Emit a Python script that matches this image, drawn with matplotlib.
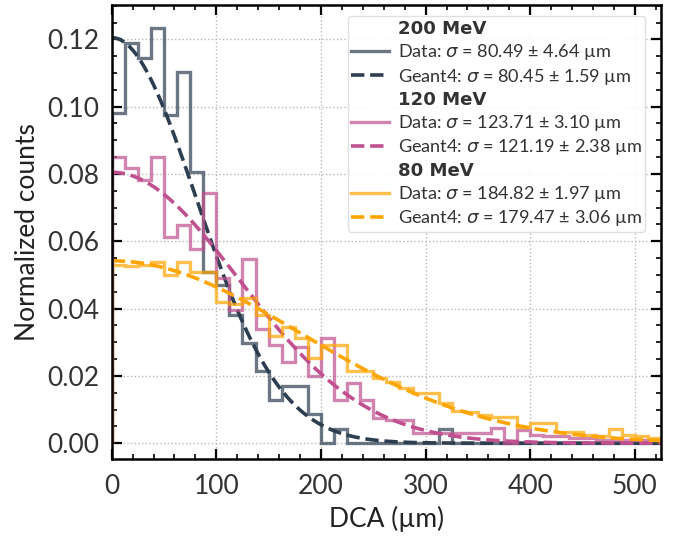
import numpy as np
import matplotlib
matplotlib.use("Agg")
import matplotlib.pyplot as plt
from matplotlib.lines import Line2D
from matplotlib.ticker import MultipleLocator, FormatStrFormatter

plt.rcParams['font.family'] = ['Lato', 'DejaVu Sans']
plt.rcParams['mathtext.fontset'] = 'dejavusans'

# DCA histogram bins (µm)
bin_edges = np.arange(0, 525 + 12.5, 12.5)

# Normalized counts per bin, 200 MeV data
counts_200 = [0.098, 0.119, 0.1146, 0.1233, 0.0975, 0.1104, 0.0807, 0.051,
              0.047, 0.0381, 0.0297, 0.0213, 0.0127, 0.0171, 0.0171, 0.0086,
              0.0, 0.0043, 0.0, 0.0, 0.0, 0.0, 0.0, 0.0,
              0.0, 0.0043, 0.0, 0.0, 0.0, 0.0, 0.0, 0.0,
              0.0, 0.0, 0.0, 0.0, 0.0, 0.0, 0.0, 0.0,
              0.0, 0.0]

# Normalized counts per bin, 120 MeV data
counts_120 = [0.0851, 0.0817, 0.0782, 0.0849, 0.0612, 0.0648, 0.0576, 0.0742,
              0.049, 0.0396, 0.0546, 0.0339, 0.0292, 0.0242, 0.0285, 0.0201,
              0.0312, 0.0127, 0.0178, 0.0127, 0.0074, 0.0069, 0.0069, 0.003,
              0.003, 0.003, 0.003, 0.003, 0.003, 0.0045, 0.0, 0.004,
              0.0025, 0.002, 0.002, 0.0015, 0.0015, 0.001, 0.001, 0.001,
              0.001, 0.001]

# Normalized counts per bin, 80 MeV data
counts_80 = [0.053, 0.0525, 0.053, 0.0537, 0.050, 0.0539, 0.0508, 0.0508,
             0.042, 0.0415, 0.043, 0.038, 0.0319, 0.0346, 0.0312, 0.0252,
             0.0292, 0.0292, 0.0213, 0.0213, 0.0193, 0.0183, 0.0163, 0.0150,
             0.0150, 0.0119, 0.0096, 0.0094, 0.0084, 0.0077, 0.0077, 0.0049,
             0.0059, 0.0059, 0.0034, 0.0034, 0.0025, 0.002, 0.0042, 0.0025,
             0.002, 0.0015]

# Geant4 Gaussian fits: peak height and width (µm)
g4_amp = [0.1205, 0.0805, 0.0542]
g4_sigma = [80.45, 121.19, 179.47]
g4_sigma_err = [1.59, 2.38, 3.06]

# Widths measured from data (µm)
data_sigma = [80.49, 123.71, 184.82]
data_sigma_err = [4.64, 3.10, 1.97]

energies = ["200 MeV", "120 MeV", "80 MeV"]
colors = ["#2c3e50", "#c0508f", "#ffa500"]
data_alpha = 0.7

fig = plt.figure(figsize=(6.86, 5.36), dpi=100)
ax = fig.add_axes([111.7 / 686, 1 - 459 / 536, (661 - 111.7) / 686, (459 - 5) / 536])

xfit = np.linspace(0, 525, 600)
centers = 0.5 * (bin_edges[:-1] + bin_edges[1:])
handles, labels = [], []
for counts, amp, sig, sig_err, dsig, dsig_err, col, en in zip(
        [counts_200, counts_120, counts_80], g4_amp, g4_sigma, g4_sigma_err,
        data_sigma, data_sigma_err, colors, energies):
    ax.hist(centers, bins=bin_edges, weights=counts, histtype='step',
            color=col, alpha=data_alpha, lw=2.4)
    ax.plot(xfit, amp * np.exp(-0.5 * (xfit / sig) ** 2), ls='--', color=col, lw=2.6)
    handles.append(Line2D([], [], color='none'))
    labels.append(en)
    handles.append(Line2D([], [], color=col, alpha=data_alpha, lw=2.4))
    labels.append(f"Data: $\\sigma$ = {dsig:.2f} ± {dsig_err:.2f} µm")
    handles.append(Line2D([], [], color=col, ls='--', lw=2.6))
    labels.append(f"Geant4: $\\sigma$ = {sig:.2f} ± {sig_err:.2f} µm")

ax.set_xlim(0, 525)
ax.set_ylim(-0.0047, 0.1302)
ax.xaxis.set_major_locator(MultipleLocator(100))
ax.xaxis.set_minor_locator(MultipleLocator(20))
ax.yaxis.set_major_locator(MultipleLocator(0.02))
ax.yaxis.set_minor_locator(MultipleLocator(0.005))
ax.yaxis.set_major_formatter(FormatStrFormatter('%.2f'))

ax.tick_params(which='both', direction='in', top=True, right=True,
               labelsize=19, labelcolor='#333333')
ax.tick_params(which='major', length=7, width=1.6, pad=9)
ax.tick_params(axis='x', which='major', pad=11)
ax.tick_params(which='minor', length=3.5, width=1.2)
for sp in ax.spines.values():
    sp.set_linewidth(1.8)
ax.grid(True, which='major', ls=':', color='#b8b8b8', lw=1.0)
ax.set_axisbelow(True)

ax.set_xlabel("DCA (µm)", fontsize=19, color='#222222', labelpad=5)
ax.set_ylabel("Normalized counts", fontsize=19, color='#222222', labelpad=5)

leg = ax.legend(handles, labels, loc='upper right', fontsize=13.1,
                handlelength=2.05, labelspacing=0.235, borderpad=0.2,
                handletextpad=0.49, framealpha=0.9, edgecolor='#dddddd',
                fancybox=True, bbox_to_anchor=(0.988, 0.995))
for i, t in enumerate(leg.get_texts()):
    t.set_color('#333333')
    if i % 3 == 0:
        t.set_fontweight('bold')
        t.set_fontfamily('DejaVu Sans')

fig.savefig("out.png", dpi=100)
